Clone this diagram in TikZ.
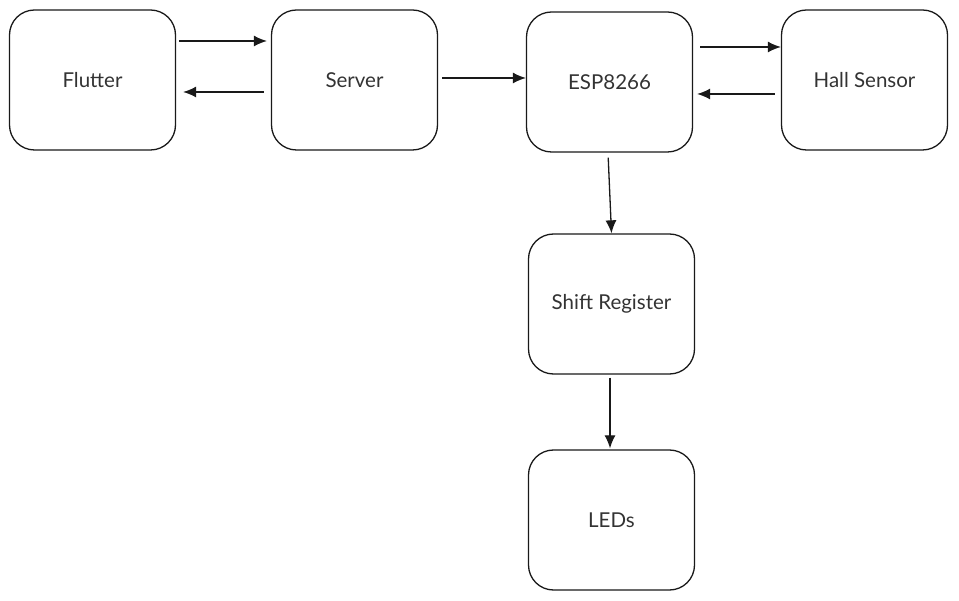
\documentclass[tikz,border=0pt]{standalone}
\usepackage{fontspec}
\setmainfont{Lato}
\usetikzlibrary{shapes, arrows.meta, positioning}
\tikzstyle{bloque} = [draw=black!90, line width=1.3pt, rectangle, rounded corners=25pt, minimum width=166pt, minimum height=140pt, inner sep=0pt, font=\fontsize{20.5}{24}\selectfont, text=black!80]
\tikzstyle{flecha} = [draw=black!90, line width=1.3pt, -{Latex[length=13pt,width=11pt]}]

\begin{document}
\begin{tikzpicture}
	\useasboundingbox (0,0) rectangle (959pt,-601pt);
	\node [bloque] (flutter) at (92.5pt,-80pt) {Flutter};
	\node [bloque, right=94.7pt of flutter] (server) {Server};
	\node [bloque, right=87.7pt of server, yshift=-2pt] (esp) {ESP8266};
	\node [bloque, right=87.7pt of esp, yshift=2pt] (hall) {Hall Sensor};
	\node [bloque, below=80.7pt of esp, xshift=2pt] (shift) {Shift Register};
	\node [bloque, below=74.7pt of shift] (leds) {LEDs};
	\draw [flecha, shorten <=3pt, shorten >=4pt] ([yshift=39pt]flutter.east) -- ([yshift=39pt]server.west);
	\draw [flecha, shorten <=7pt, shorten >=7pt] ([yshift=-12pt]server.west) -- ([yshift=-12pt]flutter.east);
	\draw [flecha, shorten <=4pt, shorten >=0pt] ([yshift=2pt]server.east) -- ([yshift=4pt]esp.west);
	\draw [flecha, shorten <=7pt, shorten >=0pt] ([yshift=35pt]esp.east) -- ([yshift=33pt]hall.west);
	\draw [flecha, shorten <=6pt, shorten >=4pt] ([yshift=-14pt]hall.west) -- ([yshift=-12pt]esp.east);
	\draw [flecha, shorten <=5pt, shorten >=0pt] ([xshift=-1.5pt]esp.south) -- (shift.north);
	\draw [flecha, shorten <=3pt, shorten >=1pt] ([xshift=-1.5pt]shift.south) -- ([xshift=-1.5pt]leds.north);
\end{tikzpicture}
\end{document}
